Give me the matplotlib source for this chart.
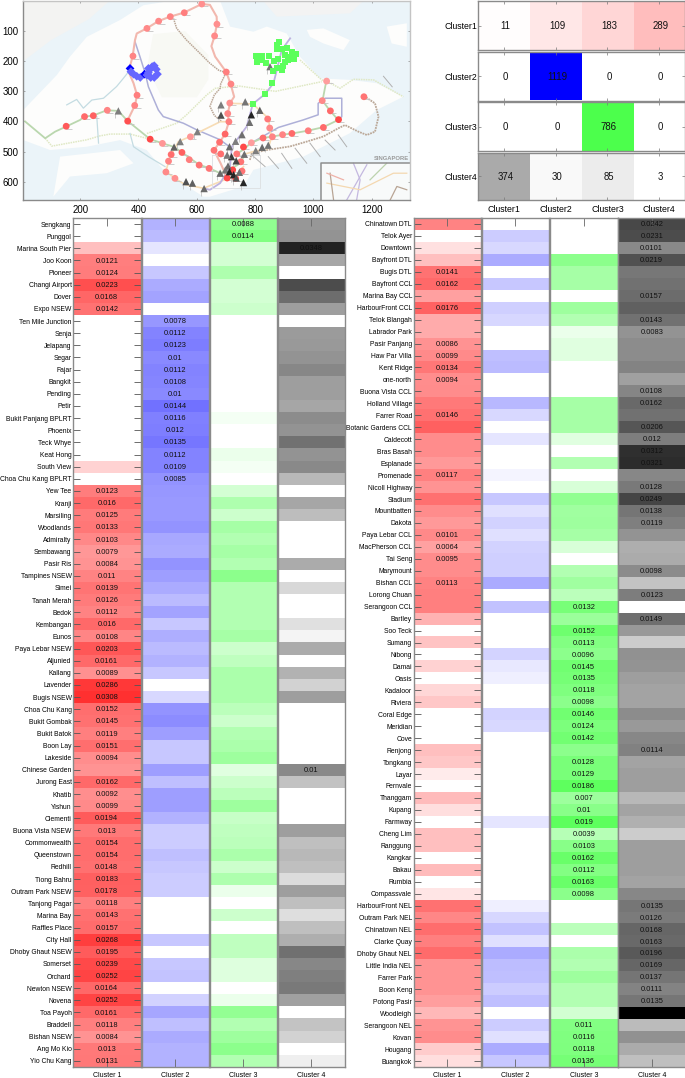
import matplotlib
matplotlib.use("Agg")
import matplotlib.pyplot as plt
import numpy as np
from matplotlib.colors import LinearSegmentedColormap, PowerNorm, Normalize

plt.rcParams['font.family'] = ['Liberation Sans', 'DejaVu Sans']

#data, left panel
left_names = ['Sengkang','Punggol','Marina South Pier','Joo Koon','Pioneer','Changi Airport','Dover','Expo NSEW','Ten Mile Junction','Senja',
 'Jelapang','Segar','Fajar','Bangkit','Pending','Petir','Bukit Panjang BPLRT','Phoenix','Teck Whye','Keat Hong',
 'South View','Choa Chu Kang BPLRT','Yew Tee','Kranji','Marsiling','Woodlands','Admiralty','Sembawang','Pasir Ris','Tampines NSEW',
 'Simei','Tanah Merah','Bedok','Kembangan','Eunos','Paya Lebar NSEW','Aljunied','Kallang','Lavender','Bugis NSEW',
 'Choa Chu Kang','Bukit Gombak','Bukit Batok','Boon Lay','Lakeside','Chinese Garden','Jurong East','Khatib','Yishun','Clementi',
 'Buona Vista NSEW','Commonwealth','Queenstown','Redhill','Tiong Bahru','Outram Park NSEW','Tanjong Pagar','Marina Bay','Raffles Place','City Hall',
 'Dhoby Ghaut NSEW','Somerset','Orchard','Newton NSEW','Novena','Toa Payoh','Braddell','Bishan NSEW','Ang Mo Kio','Yio Chu Kang']
left_c1 = [0,0,.003,.0121,.0124,.0223,.0168,.0142,0,0,
 0,0,0,0,0,0,0,0,0,0,
 .0015,0,.0123,.016,.0125,.0133,.0103,.0079,.0084,.011,
 .0139,.0126,.0112,.016,.0108,.0203,.0161,.0089,.0286,.0308,
 .0152,.0145,.0119,.0151,.0094,.0085,.0162,.0092,.0099,.0194,
 .013,.0154,.0154,.0148,.0183,.0178,.0118,.0143,.0157,.0268,
 .0195,.0239,.0252,.0164,.0252,.0161,.0118,.0084,.013,.0131]
left_c2 = [.0043,.0034,.0005,0,.0023,.0051,.0061,0,.0078,.0112,
 .0123,.01,.0112,.0108,.01,.0144,.0116,.012,.0135,.0112,
 .0109,.0085,.0079,.0076,.0076,.0083,.0055,.0051,.0083,.0068,
 .0051,.0034,.0061,.0023,.0048,.0034,.0043,.0023,0,.0011,
 .0083,.0096,.0068,.0023,.0023,.0068,.003,.0068,.0068,.0043,
 .0019,.0019,.003,.0023,.0019,.0019,0,0,0,.0023,
 0,.0023,.0025,0,.0015,.0058,.003,.0051,.0043,.0043]
left_c3 = [.0088,.0114,.0014,.0014,.0048,.0014,.0014,.0019,0,0,
 0,0,0,0,0,0,.0001,0,0,.0003,
 .0001,0,.0014,.0048,.0019,.0058,.0043,.0058,.0043,.0096,
 .0043,.0043,.0043,.0043,.0058,.0019,.003,.0051,.0051,.0051,
 .0034,.0019,.0043,.0051,.0068,.0007,.0019,.0034,.0068,.0023,
 .003,.0034,.0051,.0019,.0048,.0003,0,.0019,0,.003,
 .003,.0008,.0008,0,.0003,.0083,.0043,.0068,.0096,.0043]
left_c4 = [.0079,.0083,.0348,.0058,0,.0232,.0154,.0068,0,.0072,
 .0076,.0083,.0104,.0068,.0068,.0058,.0096,.0083,.0143,.0083,
 .01,.0037,0,.0058,.0032,0,0,0,.0051,0,
 .0011,0,0,.0007,.0001,.0051,0,.0043,.0015,.0068,
 0,0,0,0,0,.01,.0027,0,0,0,
 .0068,.003,.0037,.003,.0009,.0068,.003,.0008,.003,.0048,
 .0148,.0104,.0118,.0128,.0065,0,.0025,.0015,0,.0002]
#rows that carry a printed number
left_marked = [list(range(3,8))+list(range(22,45))+list(range(46,70)), list(range(8,22)), [0,1], [2,45]]

#data, right panel
right_names = ['Chinatown DTL','Telok Ayer','Downtown','Bayfront DTL','Bugis DTL','Bayfront CCL','Marina Bay CCL','HarbourFront CCL','Telok Blangah','Labrador Park',
 'Pasir Panjang','Haw Par Villa','Kent Ridge','one-north','Buona Vista CCL','Holland Village','Farrer Road','Botanic Gardens CCL','Caldecott','Bras Basah',
 'Esplanade','Promenade','Nicoll Highway','Stadium','Mountbatten','Dakota','Paya Lebar CCL','MacPherson CCL','Tai Seng','Marymount',
 'Bishan CCL','Lorong Chuan','Serangoon CCL','Bartley','Soo Teck','Sumang','Nibong','Damai','Oasis','Kadaloor',
 'Riviera','Coral Edge','Meridian','Cove','Renjong','Tongkang','Layar','Fernvale','Thanggam','Kupang',
 'Farmway','Cheng Lim','Ranggung','Kangkar','Bakau','Rumbia','Compassvale','HarbourFront NEL','Outram Park NEL','Chinatown NEL',
 'Clarke Quay','Dhoby Ghaut NEL','Little India NEL','Farrer Park','Boon Keng','Potong Pasir','Woodleigh','Serangoon NEL','Kovan','Hougang','Buangkok']
right_c1 = [.0109,0,.0007,.003,.0141,.0162,.0065,.0176,.0051,.0051,
 .0086,.0099,.0134,.0094,.0096,.0128,.0146,.0182,.0096,.0096,
 .0076,.0117,.0083,.0148,.0096,.0076,.0101,.0064,.0095,.0096,
 .0113,.0118,.0118,.0043,0,.0025,0,.0015,0,.0012,
 .0023,0,0,0,.003,.0023,.0003,0,.0034,.0008,
 0,.003,.003,0,.0034,0,.0005,.0143,.0104,.0154,
 .0118,.0159,.0083,.0083,.0083,.0068,.0037,.0083,.0096,.0019,.0008]
right_c2 = [0,.0019,.0011,.0051,0,.0023,0,.0017,.0012,0,
 0,.003,.0034,0,0,.0037,.0011,0,.0005,0,
 0,.0001,0,.0023,.0007,.0015,.0007,.0015,.0017,.0017,
 .0051,0,.0027,0,0,0,.0014,.0004,.0002,0,
 0,.0014,.0011,0,0,0,0,0,0,0,
 .0005,0,0,0,0,0,0,.0002,.0012,.0027,
 .0007,.0051,.0032,.003,.0019,.003,0,.0019,.0007,.0051,.0023]
right_c3 = [0,0,0,.0096,.0058,.0058,0,.0068,.0043,.0003,
 .0007,.0007,0,0,0,.0058,.0058,.0058,.0007,0,
 .0043,0,.0011,.0087,.0065,.0068,.0058,.0011,0,.0043,
 .0065,.0034,.0132,.0072,.0152,.0113,.0096,.0145,.0135,.0118,
 .0098,.0146,.0124,.0142,.0096,.0128,.0129,.0186,.007,.01,
 .019,.0039,.0103,.0162,.0112,.0163,.0098,0,0,.0034,
 0,.0051,.0043,.0068,.0043,.0043,.0015,.011,.0116,.0118,.0136]
right_c4 = [.0242,.0231,.0101,.0219,.0133,.0143,.0157,.0182,.0143,.0083,
 .0096,.0096,.0109,.0065,.0108,.0162,.0143,.0206,.012,.0312,
 .0321,.0104,.0128,.0249,.0138,.0119,.0083,.0048,.0051,.0098,
 .0025,.0123,0,.0149,.0076,.0019,.0087,.0083,.0068,.0061,
 .0061,.0096,.0076,.0104,.0114,.0061,.0068,.0068,.0037,.0061,
 .0045,.0019,.0068,.0068,.0068,.0061,.0104,.0135,.0126,.0168,
 .0163,.0196,.0169,.0137,.0111,.0135,.047,.0034,.0087,.0051,.003]
right_marked = [[4,5,7,10,11,12,13,16,21,26,27,28,30], [],
 [32]+list(range(34,44))+list(range(45,57))+list(range(67,71)),
 [0,1,2,3,6,8,9,14,15,17,18,19,20,22,23,24,25,29,31,33,44]+list(range(57,66))]

#confusion table
conf_labels = ['Cluster1','Cluster2','Cluster3','Cluster4']
conf = [[11,109,183,289],[0,1119,0,0],[0,0,786,0],[374,30,85,3]]
cluster_labels = ['Cluster 1','Cluster 2','Cluster 3','Cluster 4']

#stations on the map: x, y, value
red_x = [617,557,509,469,429,669,661,381,701,717,395,387,363,293,245,215,152,713,706,710,697,678,659,682,760,737,751,755,723,704,733,440,482,512,549,503,494,525,574,608,642,578,1045,1030,1058,1086,1034,982,926,894,859,827,850,843,787,1173]
red_y = [10,39,52,67,91,77,116,183,236,276,313,347,399,363,381,384,416,339,374,401,442,469,496,508,485,508,534,565,561,588,589,459,473,510,503,532,568,589,527,545,556,451,266,331,365,394,420,431,440,444,451,455,422,392,471,318]
red_v = [.009,.012,.011,.01,.01,.009,.01,.011,.012,.011,.012,.011,.022,.011,.018,.016,.02,.009,.011,.012,.017,.015,.014,.015,.024,.013,.014,.014,.025,.024,.022,.024,.008,.015,.018,.011,.01,.009,.012,.014,.014,.008,.007,.01,.016,.024,.016,.012,.016,.011,.011,.015,.01,.013,.007,.014]
tri_x = [331,602,522,543,563,585,625,683,683,766,816,787,781,755,733,712,719,704,763,735,707,698,680,712,726,746,735,760,802,824,845,851]
tri_y = [365,434,485,467,600,605,623,379,345,335,363,378,403,444,466,484,517,512,509,531,548,561,572,567,577,569,588,603,497,486,479,218]
tri_v = [.012,.012,.018,.012,.022,.018,.016,.022,.012,.014,.018,.034,.015,.015,.012,.016,.028,.013,.015,.025,.016,.014,.016,.034,.034,.015,.022,.034,.012,.016,.014,.014]
green_x = [883,874,874,891,909,926,939,903,920,934,914,903,897,891,861,880,863,846,823,802,823,806,837,874,857,834,792]
green_y = [135,146,160,161,157,168,176,180,185,194,196,204,215,229,231,194,198,183,183,183,196,202,207,224,274,309,342]
blue_x = [371,374,383,394,406,421,434,440,454,461,465,454,442,429,447,434]
blue_y = [224,235,243,250,254,243,238,227,215,227,243,254,254,246,218,224]
blue_v = [.047,.017,.017,.017,.017,.047,.017,.017,.017,.017,.017,.017,.017,.017,.017,.017]

#map lines
ns_x = [362,388,395,383,366,380,388,394,428,468,508,555,617,645,668,669,661,650,663,701,716,728,714,706,710,697,678,659,682,704]
ns_y = [398,346,313,273,235,183,130,108,91,67,52,39,10,13,52,77,116,150,185,236,276,318,339,374,401,442,469,496,540,588]
ew_x = [11,80,114,152,200,213,243,291,331,362,440,483,520,548,608,642,680,740,760,737,765,783,825,862,894,926,980,1034,1085]
ew_y = [400,456,434,417,395,384,381,363,365,398,459,473,484,502,544,555,572,545,520,508,490,473,455,450,444,440,431,419,395]
ewb_x = [1085,1057,1031,1044]
ewb_y = [395,365,331,266]
ne_x = [920,891,880,863,834,792,771,720,714,680,645,625]
ne_y = [124,163,207,273,309,342,417,484,550,605,627,623]
cc1_x = [494,525,560,623,680,740,760]
cc1_y = [566,589,610,622,600,575,550]
cc2_x = [494,508,537,577,634,680,710]
cc2_y = [566,517,467,450,423,401,401]
cc3_x = [713,792,848,848,857,845,794,760]
cc3_y = [340,342,392,423,450,489,500,510]
dt1_x = [520,531,565,611,645,675,700,682,680,660,645,660,685]
dt1_y = [58,91,130,174,207,230,238,275,290,312,350,380,400]
dt2_x = [782,788,840,920,977,1034,1085,1108,1154,1183,1211,1223,1211,1177]
dt2_y = [528,506,495,483,467,450,423,412,434,445,434,384,340,318]
dl1_x = [388,405,423,434,468,485,554,600,680,720]
dl1_y = [135,185,240,285,362,384,406,428,461,490]
dl2_x = [790,880,965,1016,1016,1040,1097,1097,1085]
dl2_y = [470,420,395,378,340,323,323,384,395]
te1_x = [80,103,143,223,268,303,371,428]
te1_y = [456,482,475,461,448,442,442,456]
te2_x = [429,531,565,634,663,742,870,1028]
te2_y = [440,406,378,312,290,282,300,268]
te3_x = [954,1028,1045,1091,1137,1206,1308]
te3_y = [196,262,266,290,260,262,318]
lrt1_x = [154,188,211,240,280,325,348,366]
lrt1_y = [345,327,356,329,323,284,257,235]
lrt2_x = [257,263]
lrt2_y = [384,472]
lrt3_x = [371,383,434,491]
lrt3_y = [440,484,517,550]
#short leader marks along the east coast
stub_x0 = [788,845,891,937,988,1040,1085,1240]
stub_y0 = [511,517,506,489,472,462,445,250]
stub_x1 = [834,880,926,977,1023,1074,1114,1270]
stub_y1 = [550,556,556,539,517,495,484,285]
#land shapes
island_x = [5,120,165,223,337,417,508,617,680,714,794,840,908,954,1022,1125,1217,1308,1217,1125,965,794,760,645,623,531,485,428,337,223,97,5]
island_y = [362,246,185,119,63,14,0,0,0,85,102,85,108,185,257,262,273,318,362,439,517,561,616,650,650,594,561,495,462,484,495,462]
wood_x = [450,560,640,640,600,480,430]
wood_y = [110,100,180,260,320,320,220]
johor_x = [5,5,100,230,300]
johor_y = [0,200,130,60,0]
north_x = [828,874,988,1125,1171]
north_y = [0,52,47,41,0]
ubin_x = [977,1034,1125,1103,1034,988]
ubin_y = [96,91,130,163,141,119]
tekong_x = [1251,1320,1320,1268]
tekong_y = [85,74,152,141]
jurong_x = [131,337,383,291,165,108]
jurong_y = [517,495,539,572,583,650]
inset_lines = [([1114,1183],[661,544],'#c4b8e0'), ([1148,1160,1137],[661,594,539],'#c4b8e0'), ([1194,1251],[594,539],'#bcd3ae'),
 ([1046,1160,1274,1320],[605,627,572,572],'#f4d8b0'), ([1057,1069],[572,661],'#b9a595'), ([1263,1286,1320],[661,616,627],'#b9a595'), ([1046,1103],[572,594],'#efb2a8')]

fig = plt.figure(figsize=(6.85, 10.78), dpi=100)
W, H = 685.0, 1078.0

def pix_axes(x0, y0, x1, y1):
    return fig.add_axes([x0/W, 1-y1/H, (x1-x0)/W, (y1-y0)/H])

def white_to(color):
    return LinearSegmentedColormap.from_list('w', ['#ffffff', color])

frame = '#8a8a8a'
cmaps = [white_to('#ff0000'), white_to('#0000ff'), white_to('#00ff00'), white_to('#000000')]
cell_norm = PowerNorm(0.5, vmin=0, vmax=0.047)

def style_frame(ax):
    for s in ax.spines.values():
        s.set_color(frame)
        s.set_linewidth(1.0)

def heat_panel(names, cols, marked, lefts, width, top=218, bottom=1067):
    n = len(names)
    for k, col in enumerate(cols):
        ax = pix_axes(lefts[k], top, lefts[k]+width, bottom)
        ax.imshow(np.array(col).reshape(-1, 1), cmap=cmaps[k], norm=cell_norm, aspect='auto', interpolation='nearest')
        style_frame(ax)
        ax.set_xticks([0])
        ax.set_xticklabels([cluster_labels[k]], fontsize=5)
        ax.tick_params(axis='x', direction='in', length=5.5, width=0.6, color='#666666', top=True, pad=3.5)
        if k == 0:
            ax.set_yticks(range(n))
            ax.set_yticklabels(names, fontsize=4.85)
            ax.tick_params(axis='y', direction='in', length=5, width=0.6, color='#555555', right=True, pad=1)
        else:
            ax.set_yticks([])
        for i in marked[k]:
            ax.text(0, i+0.05, '%g' % col[i], ha='center', va='center', fontsize=5.4, color='#111111', zorder=5)

#map
ax = pix_axes(23.3, 1, 410, 200)
ax.set_xlim(5, 1331)
ax.set_ylim(661, 0)
ax.set_facecolor('#ebf4f9')
ax.fill(island_x, island_y, color='#fdfdfc', lw=0)
ax.fill(johor_x, johor_y, color='#f3f3f2', lw=0)
ax.fill(north_x, north_y, color='#f3f3f3', lw=0)
ax.fill(wood_x, wood_y, color='#f8f9f4', lw=0)
ax.fill(ubin_x, ubin_y, color='#fdfdfc', lw=0)
ax.fill(tekong_x, tekong_y, color='#fdfdfc', lw=0)
ax.fill(jurong_x, jurong_y, color='#fdfdfc', lw=0)
for lx, ly in [(te1_x, te1_y), (te2_x, te2_y), (te3_x, te3_y)]:
    ax.plot(lx, ly, color='#dfe8c4', lw=1.1, ls=(0, (1, 0.6)))
for lx, ly in [(lrt1_x, lrt1_y), (lrt2_x, lrt2_y), (lrt3_x, lrt3_y)]:
    ax.plot(lx, ly, color='#c4dce2', lw=0.9)
ax.plot(dl1_x, dl1_y, color='#aeb0d8', lw=1.1)
ax.plot(dl2_x, dl2_y, color='#aeb0d8', lw=1.1)
ax.plot(dt1_x, dt1_y, color='#bba898', lw=1.1, ls=(0, (1, 0.5)))
ax.plot(dt2_x, dt2_y, color='#bba898', lw=1.3, ls=(0, (1, 0.5)))
for lx, ly in [(cc1_x, cc1_y), (cc2_x, cc2_y), (cc3_x, cc3_y)]:
    ax.plot(lx, ly, color='#f7dcb4', lw=1.2)
ax.plot(ew_x, ew_y, color='#bad7ae', lw=1.3)
ax.plot(ewb_x, ewb_y, color='#bad7ae', lw=1.3)
ax.plot(ne_x, ne_y, color='#bdb2e0', lw=1.3)
ax.plot(ns_x, ns_y, color='#f2b8ae', lw=1.5)
ax.plot([652,652,815,815,652], [511,622,622,511,511], color='#dcdfe1', lw=0.6)
for i in range(len(stub_x0)):
    ax.plot([stub_x0[i], stub_x1[i]], [stub_y0[i], stub_y1[i]], color='#b0b0b0', lw=0.7)
ax.fill([1026,1331,1331,1026], [539,539,661,661], color='#f8fafa', lw=0)
for lx, ly, lc in inset_lines:
    ax.plot(lx, ly, color=lc, lw=0.9)
ax.plot([1026,1026,1331], [661,539,539], color='#8f8f8f', lw=1.1)
ax.text(1326, 522, 'SINGAPORE', fontsize=4.2, color='#9a9a9a', ha='right', va='center', fontweight='bold')
#small grey label marks beside the stations
ax.plot(np.array(red_x)+10, np.array(red_y)+8, ls='', marker='_', ms=5, mew=0.6, color='#c4c4c4', zorder=2)
ax.plot(np.array(tri_x)-10, np.array(tri_y)+14, ls='', marker='|', ms=4, mew=0.6, color='#c4c4c4', zorder=2)
point_norm = PowerNorm(0.5, vmin=0, vmax=0.047)
ax.scatter(red_x, red_y, c=red_v, cmap=cmaps[0], norm=point_norm, s=24, lw=0, zorder=3)
ax.scatter(tri_x, tri_y, c=tri_v, cmap=cmaps[3], norm=point_norm, s=28, marker='^', lw=0, zorder=3)
ax.scatter(green_x, green_y, c='#5cff5c', s=20, marker='s', lw=0, zorder=3)
ax.scatter(blue_x, blue_y, c=blue_v, cmap=cmaps[1], norm=point_norm, s=20, marker='D', lw=0, zorder=3)
ax.set_xticks([200,400,600,800,1000,1200])
ax.set_yticks([100,200,300,400,500,600])
ax.tick_params(axis='both', labelsize=6.9, length=1.5, width=0.5, color='#888888', direction='in', top=True, right=True, pad=3.5)
style_frame(ax)
ax.spines['right'].set_color('#c4c4c4')
ax.spines['top'].set_color('#c4c4c4')

#confusion rows
rows_y = [(1,50),(52,100.5),(102,151),(152.5,200)]
colors = ['#ff0000', '#0000ff', '#00ff00', '#000000']
for r, (y0, y1) in enumerate(rows_y):
    ax = pix_axes(478, y0, 685, y1)
    row = np.array(conf[r], dtype=float)
    ax.imshow(row.reshape(1, -1), cmap=white_to(colors[r]), norm=Normalize(0, 1119), aspect='auto', interpolation='nearest')
    style_frame(ax)
    for c in range(4):
        ax.text(c+0.03, 0.02, str(conf[r][c]), ha='center', va='center', fontsize=6.9, color='#111111')
    ax.set_yticks([0])
    ax.set_yticklabels([conf_labels[r]], fontsize=6.3)
    ax.set_xticks(range(4))
    ax.set_xticklabels(conf_labels if r == 3 else [], fontsize=6.3)
    ax.tick_params(axis='y', direction='in', length=2, width=0.5, color='#777777', right=True, pad=0.5)
    ax.tick_params(axis='x', direction='in', length=2, width=0.5, color='#777777', top=True, pad=3.5)

heat_panel(left_names, [left_c1, left_c2, left_c3, left_c4], left_marked, [73, 141.5, 209.5, 277.5], 67.5)
heat_panel(right_names, [right_c1, right_c2, right_c3, right_c4], right_marked, [413.5, 481.5, 550, 618], 67.5)

plt.savefig('out.png', dpi=100)
